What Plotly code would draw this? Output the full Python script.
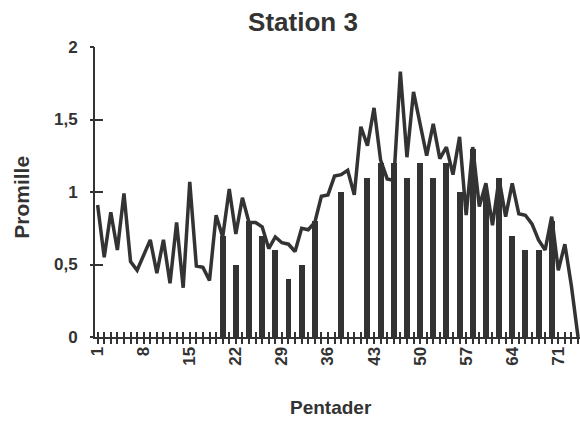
import plotly.graph_objects as go

# ---- data ----
pentads = list(range(1, 75))
line_values = [
    0.91, 0.55, 0.86, 0.60, 0.99, 0.52, 0.46, 0.56, 0.67, 0.44,
    0.67, 0.37, 0.79, 0.34, 1.07, 0.49, 0.48, 0.39, 0.84, 0.69,
    1.02, 0.71, 0.96, 0.79, 0.79, 0.76, 0.61, 0.69, 0.65, 0.64,
    0.59, 0.75, 0.74, 0.79, 0.97, 0.98, 1.11, 1.12, 1.15, 0.98,
    1.45, 1.32, 1.58, 1.22, 1.09, 1.08, 1.83, 1.24, 1.69, 1.47,
    1.25, 1.47, 1.23, 1.31, 1.12, 1.38, 0.84, 1.31, 0.90, 1.06,
    0.77, 1.09, 0.83, 1.06, 0.85, 0.84, 0.78, 0.67, 0.60, 0.83,
    0.46, 0.64, 0.35, 0.00,
]
bar_pentads = [20, 22, 24, 26, 28, 30, 32, 34, 38, 42, 44, 46, 48, 50,
               52, 54, 56, 58, 60, 62, 64, 66, 68, 70]
bar_values = [0.7, 0.5, 0.8, 0.7, 0.6, 0.4, 0.5, 0.8, 1.0, 1.1, 1.2, 1.2, 1.1, 1.2,
              1.1, 1.2, 1.0, 1.3, 1.0, 1.1, 0.7, 0.6, 0.6, 0.8]
x_tick_vals = [1, 8, 15, 22, 29, 36, 43, 50, 57, 64, 71]
y_tick_vals = [0, 0.5, 1, 1.5, 2]
y_tick_text = ["0", "0,5", "1", "1,5", "2"]

DARK = "#333333"
FONT = "Liberation Sans, Arial, Helvetica, sans-serif"
X_RANGE = [0.6, 74.3]
Y_RANGE = [0, 2]

fig = go.Figure()
fig.add_trace(go.Bar(x=bar_pentads, y=bar_values, width=0.9,
                     marker=dict(color=DARK, line=dict(width=0))))
fig.add_trace(go.Scatter(x=pentads, y=line_values, mode="lines",
                         line=dict(color=DARK, width=3.5)))
# invisible trace to keep overlay axes alive
fig.add_trace(go.Scatter(x=[pentads[0]], y=[y_tick_vals[0]], xaxis="x2", yaxis="y2",
                         mode="markers", marker=dict(opacity=0), hoverinfo="skip"))

tickfont = dict(family=FONT, size=17, color=DARK, weight="bold")

fig.update_layout(
    width=580, height=421,
    margin=dict(l=95, r=0, t=47, b=84),
    paper_bgcolor="white", plot_bgcolor="white",
    showlegend=False,
    bargap=0,
    xaxis=dict(range=X_RANGE, tickmode="array", tickvals=x_tick_vals,
               ticktext=[str(v) for v in x_tick_vals], tickangle=-90,
               ticks="outside", ticklen=5, tickwidth=1.5, tickcolor=DARK,
               minor=dict(tickmode="array", tickvals=pentads, ticks="outside",
                          ticklen=5, tickwidth=1.5, tickcolor=DARK),
               showline=True, linecolor=DARK, linewidth=2,
               showgrid=False, zeroline=False, tickfont=tickfont,
               ticklabelstandoff=-4),
    yaxis=dict(range=Y_RANGE, tickmode="array", tickvals=y_tick_vals,
               ticktext=y_tick_text, ticks="inside", ticklen=8, tickwidth=1.5,
               tickcolor=DARK, showline=True, linecolor=DARK, linewidth=2,
               showgrid=False, zeroline=False, tickfont=tickfont,
               ticklabelstandoff=12),
    xaxis2=dict(overlaying="x", anchor="y2", range=X_RANGE, tickmode="array",
                tickvals=pentads, ticks="inside", ticklen=5, tickwidth=1.5,
                tickcolor=DARK, showticklabels=False, showline=False,
                showgrid=False, zeroline=False),
    yaxis2=dict(overlaying="y", anchor="x2", range=Y_RANGE, tickmode="array",
                tickvals=y_tick_vals, ticks="outside", ticklen=4, tickwidth=1.5,
                tickcolor=DARK, showticklabels=False, showline=False,
                showgrid=False, zeroline=False),
    title=dict(text="Station 3", x=303 / 580, xanchor="center", xref="container",
               y=1 - 22 / 421, yanchor="middle", yref="container",
               font=dict(family=FONT, size=26, color=DARK, weight="bold")),
    annotations=[
        dict(text="Promille", xref="paper", yref="paper", x=-73 / 485, y=0.48,
             xanchor="center", yanchor="middle", textangle=-90, showarrow=False,
             font=dict(family=FONT, size=21, color=DARK, weight="bold")),
        dict(text="Pentader", xref="paper", yref="paper", x=(331 - 95) / 485,
             y=-(407 - 337) / 290, xanchor="center", yanchor="middle",
             showarrow=False,
             font=dict(family=FONT, size=19, color=DARK, weight="bold")),
    ],
)

fig.write_html("out.html", config={"displayModeBar": False},
               post_script="document.body.style.margin='0';")
